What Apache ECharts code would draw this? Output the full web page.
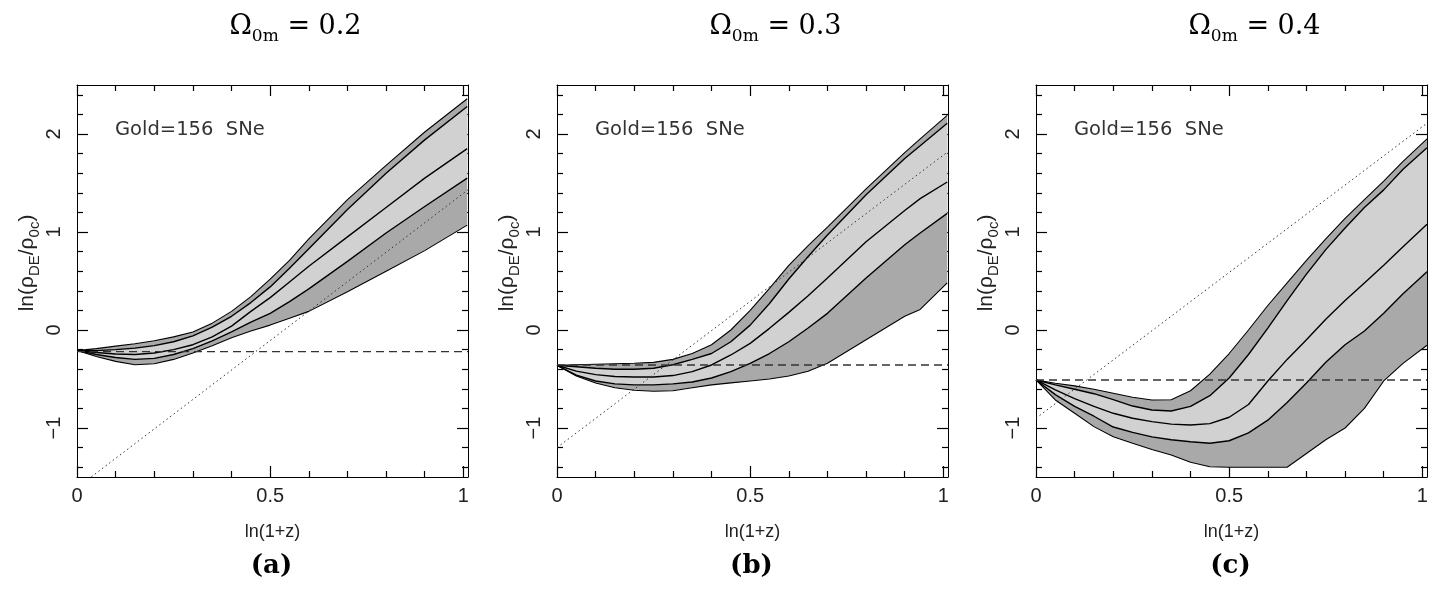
<!DOCTYPE html>
<html>
<head>
<meta charset="utf-8">
<script src="https://cdn.jsdelivr.net/npm/echarts@6/dist/echarts.min.js"></script>
<style>
  html, body { margin: 0; padding: 0; background: #fff; }
  #chart { width: 1434px; height: 592px; }
</style>
</head>
<body>
<div id="chart"></div>
<script>
// ln(1+z) sample points and the reconstructed ln(rho_DE/rho_0c) curves, per panel
const lnzA = [0, 0.05, 0.1, 0.15, 0.2, 0.25, 0.3, 0.35, 0.4, 0.45, 0.5, 0.55, 0.6, 0.7, 0.8, 0.9, 1.01]
const outerUpA = [-0.21, -0.19, -0.165, -0.14, -0.11, -0.07, -0.02, 0.07, 0.19, 0.34, 0.52, 0.71, 0.93, 1.33, 1.68, 2.02, 2.36]
const innerUpA = [-0.21, -0.21, -0.20, -0.185, -0.16, -0.12, -0.06, 0.03, 0.14, 0.28, 0.44, 0.63, 0.83, 1.23, 1.60, 1.94, 2.28]
const medianA = [-0.21, -0.23, -0.245, -0.25, -0.235, -0.20, -0.15, -0.07, 0.04, 0.19, 0.33, 0.49, 0.65, 0.95, 1.25, 1.55, 1.85]
const innerLowA = [-0.21, -0.25, -0.28, -0.30, -0.29, -0.25, -0.19, -0.11, -0.02, 0.08, 0.17, 0.29, 0.42, 0.70, 0.99, 1.26, 1.55]
const outerLowA = [-0.21, -0.27, -0.32, -0.355, -0.345, -0.30, -0.235, -0.16, -0.08, -0.01, 0.05, 0.12, 0.19, 0.39, 0.60, 0.81, 1.07]

const lnzB = [0, 0.05, 0.1, 0.15, 0.2, 0.25, 0.3, 0.35, 0.4, 0.45, 0.5, 0.55, 0.6, 0.65, 0.7, 0.8, 0.9, 0.94, 1.01]
const outerUpB = [-0.36, -0.355, -0.35, -0.345, -0.34, -0.33, -0.30, -0.24, -0.15, 0.0, 0.20, 0.425, 0.66, 0.86, 1.05, 1.44, 1.81, 1.95, 2.19]
const innerUpB = [-0.36, -0.375, -0.39, -0.40, -0.40, -0.39, -0.355, -0.30, -0.24, -0.12, 0.05, 0.27, 0.52, 0.75, 0.97, 1.38, 1.75, 1.88, 2.11]
const medianB = [-0.36, -0.42, -0.455, -0.475, -0.48, -0.48, -0.465, -0.425, -0.357, -0.255, -0.136, 0.017, 0.18, 0.35, 0.53, 0.90, 1.22, 1.34, 1.51]
const innerLowB = [-0.36, -0.46, -0.52, -0.55, -0.56, -0.56, -0.55, -0.53, -0.49, -0.425, -0.34, -0.24, -0.12, 0.02, 0.17, 0.53, 0.87, 0.99, 1.19]
const outerLowB = [-0.36, -0.47, -0.54, -0.59, -0.615, -0.625, -0.62, -0.59, -0.56, -0.54, -0.52, -0.50, -0.47, -0.42, -0.34, -0.10, 0.14, 0.21, 0.48]

const lnzC = [0, 0.05, 0.1, 0.15, 0.2, 0.25, 0.3, 0.35, 0.4, 0.45, 0.5, 0.55, 0.6, 0.65, 0.7, 0.75, 0.8, 0.85, 0.9, 0.95, 1.012]
const outerUpC = [-0.51, -0.544, -0.57, -0.605, -0.646, -0.687, -0.715, -0.712, -0.62, -0.45, -0.24, 0.0, 0.25, 0.48, 0.71, 0.93, 1.14, 1.33, 1.52, 1.72, 1.95]
const innerUpC = [-0.51, -0.56, -0.605, -0.65, -0.71, -0.776, -0.816, -0.826, -0.78, -0.67, -0.49, -0.25, 0.02, 0.30, 0.57, 0.82, 1.04, 1.25, 1.43, 1.64, 1.86]
const medianC = [-0.51, -0.61, -0.70, -0.78, -0.85, -0.90, -0.935, -0.96, -0.97, -0.955, -0.89, -0.76, -0.52, -0.30, -0.10, 0.11, 0.30, 0.48, 0.66, 0.85, 1.08]
const innerLowC = [-0.51, -0.66, -0.78, -0.88, -0.99, -1.044, -1.09, -1.12, -1.14, -1.155, -1.13, -1.05, -0.92, -0.74, -0.54, -0.33, -0.15, -0.01, 0.17, 0.37, 0.595]
const outerLowC = [-0.51, -0.714, -0.85, -0.986, -1.09, -1.156, -1.22, -1.275, -1.35, -1.395, -1.40, -1.40, -1.40, -1.40, -1.26, -1.12, -1.0, -0.80, -0.52, -0.34, -0.155]

// horizontal dashed level (cosmological constant) and dotted matter line ends
const dashLevel = [-0.22, -0.357, -0.51]
const dotStartY = [-1.61, -1.20, -0.90]
const dotEndY = [1.43, 1.82, 2.11]

const omegaLabels = ['0.2', '0.3', '0.4']
const panelTags = ['(a)', '(b)', '(c)']
const sampleLabel = 'Gold=156  SNe'

const xMajorTicks = [0, 0.5, 1]
const xMinorTicks = [0.1, 0.2, 0.3, 0.4, 0.6, 0.7, 0.8, 0.9]
const yMajorTicks = [-1, 0, 1, 2]
const yMinorTicks = [-1.4, -1.2, -0.8, -0.6, -0.4, -0.2, 0.2, 0.4, 0.6, 0.8, 1.2, 1.4, 1.6, 1.8, 2.2, 2.4]

const X_MAX = 1.012
const Y_MIN = -1.5
const Y_MAX = 2.5

const panels = [
  { x: lnzA, ou: outerUpA, iu: innerUpA, md: medianA, il: innerLowA, ol: outerLowA },
  { x: lnzB, ou: outerUpB, iu: innerUpB, md: medianB, il: innerLowB, ol: outerLowB },
  { x: lnzC, ou: outerUpC, iu: innerUpC, md: medianC, il: innerLowC, ol: outerLowC }
]

const gridLefts = [77, 557, 1036]
const gridTop = 85
const gridW = 391
const gridH = 392

const DARK = '#a9a9a9'
const LIGHT = '#d1d1d1'
const labelFont = '"Liberation Sans", Arial, sans-serif'
const serifFont = '"DejaVu Serif", serif'

const chart = echarts.init(document.getElementById('chart'), null, { renderer: 'canvas' })

const grids = []
const xAxes = []
const yAxes = []
const series = []
const graphics = []

function fmtY(v) {
  return v < 0 ? '\u2212' + Math.abs(v) : String(v)
}

function xAxisDef(gi, pos, ticks, len, withLine, withLabel) {
  return {
    type: 'value', gridIndex: gi, position: pos, min: 0, max: X_MAX,
    axisLine: { show: withLine, onZero: false, lineStyle: { color: '#000', width: 1 } },
    axisTick: { show: true, inside: true, length: len, customValues: ticks, lineStyle: { color: '#000', width: 1.2 } },
    axisLabel: withLabel ? {
      show: true, customValues: ticks, margin: 9, color: '#222', fontSize: 20, fontFamily: labelFont,
      formatter: v => String(v)
    } : { show: false },
    splitLine: { show: false },
    name: withLabel ? 'ln(1+z)' : '',
    nameLocation: 'middle',
    nameGap: 46,
    nameTextStyle: { color: '#222', fontSize: 18, fontFamily: labelFont }
  }
}

function yAxisDef(gi, pos, ticks, len, withLine, withLabel) {
  return {
    type: 'value', gridIndex: gi, position: pos, min: Y_MIN, max: Y_MAX,
    axisLine: { show: withLine, onZero: false, lineStyle: { color: '#000', width: 1 } },
    axisTick: { show: true, inside: true, length: len, customValues: ticks, lineStyle: { color: '#000', width: 1.2 } },
    axisLabel: withLabel ? {
      show: true, customValues: ticks, rotate: 90, margin: 13, color: '#222', fontSize: 20, fontFamily: labelFont,
      formatter: fmtY
    } : { show: false },
    splitLine: { show: false }
  }
}

function band(gi, xs, up, lo, color, z) {
  return {
    type: 'custom', xAxisIndex: 4 * gi, yAxisIndex: 4 * gi,
    data: [[0, 0]], silent: true, z: z, clip: true,
    renderItem: (params, api) => {
      const pts = xs.map((x, i) => api.coord([x, up[i]]))
      for (let i = xs.length - 1; i >= 0; i--) pts.push(api.coord([xs[i], lo[i]]))
      return { type: 'polygon', shape: { points: pts }, style: { fill: color, stroke: null } }
    }
  }
}

function curve(gi, xs, ys, style, z) {
  return {
    type: 'line', xAxisIndex: 4 * gi, yAxisIndex: 4 * gi,
    data: xs.map((x, i) => [x, ys[i]]),
    symbol: 'none', smooth: false, silent: true, z: z, clip: true,
    lineStyle: style
  }
}

panels.forEach((p, gi) => {
  const left = gridLefts[gi]
  grids.push({ left: left, top: gridTop, width: gridW, height: gridH, outerBoundsMode: 'none', containLabel: false })

  xAxes.push(xAxisDef(gi, 'bottom', xMajorTicks, 11, true, true))
  xAxes.push(xAxisDef(gi, 'bottom', xMinorTicks, 6, false, false))
  xAxes.push(xAxisDef(gi, 'top', xMajorTicks, 11, true, false))
  xAxes.push(xAxisDef(gi, 'top', xMinorTicks, 6, false, false))

  yAxes.push(yAxisDef(gi, 'left', yMajorTicks, 11, true, true))
  yAxes.push(yAxisDef(gi, 'left', yMinorTicks, 6, false, false))
  yAxes.push(yAxisDef(gi, 'right', yMajorTicks, 11, true, false))
  yAxes.push(yAxisDef(gi, 'right', yMinorTicks, 6, false, false))

  series.push(band(gi, p.x, p.ou, p.ol, DARK, 1))
  series.push(band(gi, p.x, p.iu, p.il, LIGHT, 2))

  const thin = { color: '#000', width: 1.1 }
  const thick = { color: '#000', width: 1.4 }
  series.push(curve(gi, p.x, p.ou, thin, 3))
  series.push(curve(gi, p.x, p.ol, thin, 3))
  series.push(curve(gi, p.x, p.iu, thick, 4))
  series.push(curve(gi, p.x, p.il, thick, 4))
  series.push(curve(gi, p.x, p.md, thick, 4))

  series.push(curve(gi, [0, X_MAX], [dashLevel[gi], dashLevel[gi]], { color: '#333', width: 1.3, type: [8, 5] }, 5))
  series.push(curve(gi, [0, X_MAX], [dotStartY[gi], dotEndY[gi]], { color: '#333', width: 1, type: [1.5, 3] }, 5))

  const cx = left + gridW / 2

  // panel title
  graphics.push({
    type: 'text', x: cx + 23, y: 27,
    style: {
      text: '{m|\u03A9}{s|0m}{m| = ' + omegaLabels[gi] + '}',
      align: 'center', verticalAlign: 'middle',
      rich: {
        m: { fontFamily: serifFont, fontSize: 27, lineHeight: 36, fill: '#000' },
        s: { fontFamily: serifFont, fontSize: 17, lineHeight: 15, verticalAlign: 'bottom', fill: '#000' }
      }
    }
  })

  // sample label inside the frame
  graphics.push({
    type: 'text', x: left + 38, y: 130,
    style: { text: sampleLabel, fontFamily: '"DejaVu Sans", sans-serif', fontSize: 19.5, fill: '#333', align: 'left', verticalAlign: 'middle' }
  })

  // y axis title, rotated
  graphics.push({
    type: 'text', x: left - 50, y: 263, rotation: Math.PI / 2,
    style: {
      text: '{m|ln(\u03C1}{s|DE}{m|/\u03C1}{s|0c}{m|)}',
      align: 'center', verticalAlign: 'middle',
      rich: {
        m: { fontFamily: labelFont, fontSize: 21, lineHeight: 30, fill: '#222' },
        s: { fontFamily: labelFont, fontSize: 15, lineHeight: 14, verticalAlign: 'bottom', fill: '#222' }
      }
    }
  })

  // panel tag
  graphics.push({
    type: 'text', x: cx - 1, y: 566,
    style: { text: panelTags[gi], fontFamily: serifFont, fontWeight: 'bold', fontSize: 26, fill: '#000', align: 'center', verticalAlign: 'middle' }
  })
})

chart.setOption({
  animation: false,
  backgroundColor: '#fff',
  grid: grids,
  xAxis: xAxes,
  yAxis: yAxes,
  series: series,
  graphic: graphics
})
</script>
</body>
</html>
